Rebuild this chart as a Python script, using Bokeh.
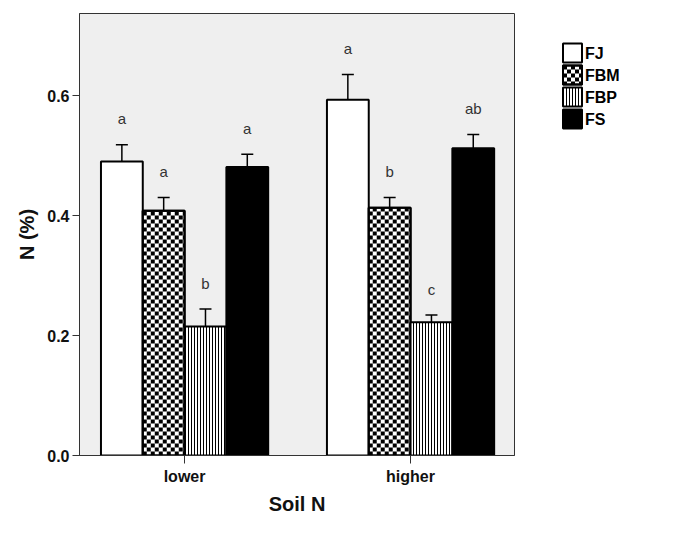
from bokeh.plotting import figure
from bokeh.layouts import row
from bokeh.models import ColumnDataSource, Range1d, FixedTicker, Whisker, TeeHead
from bokeh.core.properties import value
from bokeh.embed import file_html
from bokeh.resources import INLINE

soil_levels = ["lower", "higher"]
species = ["FJ", "FBM", "FBP", "FS"]
means = {
    "FJ":  [0.490, 0.593],
    "FBM": [0.408, 0.413],
    "FBP": [0.215, 0.222],
    "FS":  [0.481, 0.512],
}
errors = {
    "FJ":  [0.028, 0.042],
    "FBM": [0.022, 0.017],
    "FBP": [0.029, 0.012],
    "FS":  [0.021, 0.023],
}
letters = {
    "FJ":  ["a", "a"],
    "FBM": ["a", "b"],
    "FBP": ["b", "c"],
    "FS":  ["a", "ab"],
}
y_ticks = [0.0, 0.2, 0.4, 0.6]

FONT = "Liberation Sans"

# style per series
styles = {
    "FJ":  dict(fill_color="white"),
    "FBM": dict(fill_color="white", checker=True),
    "FBP": dict(fill_color="white", hatch_pattern="vertical_line", hatch_color="black",
                hatch_scale=3, hatch_weight=1),
    "FS":  dict(fill_color="black"),
}


def checker_cells(x0, x1, y0, y1, cw, ch):
    """black cells of a checkerboard covering [x0,x1]x[y0,y1]"""
    L, R, B, T = [], [], [], []
    j = 0
    y = y0
    while y < y1 - 1e-12:
        i = 0
        x = x0
        while x < x1 - 1e-12:
            if (i + j) % 2 == 0:
                L.append(x); R.append(min(x + cw, x1))
                B.append(y); T.append(min(y + ch, y1))
            x += cw
            i += 1
        y += ch
        j += 1
    return L, R, B, T


FW, FH = 435, 442
TOP, BOTTOM = 13, 80
XR = (-0.465, 1.46)
YR = (0, 0.7367)
p = figure(frame_width=FW, frame_height=FH, output_backend="svg", toolbar_location=None,
           x_range=Range1d(*XR), y_range=Range1d(*YR),
           min_border_left=79, min_border_top=TOP, min_border_right=2, min_border_bottom=BOTTOM)
p.background_fill_color = "#efefef"
p.border_fill_color = "white"
p.outline_line_color = "#333333"
p.outline_line_width = 1
p.xgrid.visible = False
p.ygrid.visible = False

cell_px = 4
cw = cell_px * (XR[1] - XR[0]) / FW
ch = cell_px * (YR[1] - YR[0]) / FH

bar_w = 0.185
offsets = [-0.2775, -0.0925, 0.0925, 0.2775]
for i, sp in enumerate(species):
    xs = [k + offsets[i] for k in range(len(soil_levels))]
    tops = means[sp]
    ups = [m + e for m, e in zip(tops, errors[sp])]
    los = [m - e for m, e in zip(tops, errors[sp])]
    src = ColumnDataSource(dict(x=xs, top=tops, upper=ups, lower=los,
                                ly=[u + 0.043 for u in ups], lab=letters[sp]))
    st = dict(styles[sp])
    chk = st.pop("checker", False)
    p.vbar(x="x", top="top", width=bar_w, source=src, line_color="black",
           line_width=2, **st)
    if chk:
        L, R, B, T = [], [], [], []
        for xc, t in zip(xs, tops):
            l, r, b, tt = checker_cells(xc - bar_w / 2, xc + bar_w / 2, 0, t, cw, ch)
            L += l; R += r; B += b; T += tt
        p.quad(left=L, right=R, bottom=B, top=T, fill_color="black", line_color=None)
        p.vbar(x="x", top="top", width=bar_w, source=src, line_color="black",
               line_width=2, fill_alpha=0)
    w = Whisker(base="x", upper="upper", lower="lower", source=src,
                line_color="black", line_width=1.5,
                upper_head=TeeHead(size=12, line_color="black", line_width=1.5),
                lower_head=TeeHead(size=12, line_color="black", line_width=1.5))
    p.add_layout(w)
    p.text(x="x", y="ly", text="lab", source=src, text_align="center",
           text_baseline="middle", text_font=value(FONT), text_font_size="15px",
           text_color="#333333")

# axes
p.xaxis.ticker = FixedTicker(ticks=list(range(len(soil_levels))))
p.xaxis.major_label_overrides = {i: s for i, s in enumerate(soil_levels)}
p.xaxis.axis_label = "Soil N"
p.yaxis.ticker = FixedTicker(ticks=y_ticks)
p.yaxis.formatter.use_scientific = False
p.yaxis.major_label_overrides = {t: f"{t:.1f}" for t in y_ticks}
p.yaxis.axis_label = "N (%)"

for ax in (p.xaxis[0], p.yaxis[0]):
    ax.axis_line_color = "#333333"
    ax.major_tick_line_color = "#333333"
    ax.minor_tick_line_color = None
    ax.major_tick_in = 0
    ax.major_tick_out = 7
    ax.major_label_text_font = FONT
    ax.major_label_text_font_style = "bold"
    ax.major_label_text_font_size = "16px"
    ax.major_label_text_color = "#111111"
    ax.axis_label_text_font = FONT
    ax.axis_label_text_font_style = "bold"
    ax.axis_label_text_font_size = "20px"
    ax.axis_label_text_color = "#111111"

p.xaxis.major_tick_out = 8
p.xaxis.major_label_standoff = 4
p.xaxis.axis_label_standoff = 5
p.yaxis.major_label_standoff = 3
p.yaxis.axis_label_standoff = 6

# ---- legend panel (separate figure; y in page pixels, x in panel pixels) ----
LW = 169
lf = figure(frame_width=LW, frame_height=FH,
            x_range=Range1d(0, LW), y_range=Range1d(TOP + FH, TOP),
            output_backend="svg", toolbar_location=None,
            min_border_left=0, min_border_right=0,
            min_border_top=TOP, min_border_bottom=BOTTOM,
            x_axis_type=None, y_axis_type=None)
lf.outline_line_color = None
lf.background_fill_color = "white"
lf.border_fill_color = "white"
lf.xgrid.visible = False
lf.ygrid.visible = False

box_x0, box_size, pitch, first_top = 46.5, 19, 22, 43
for i, sp in enumerate(species):
    t = first_top + i * pitch
    b = t + box_size
    st = dict(styles[sp])
    chk = st.pop("checker", False)
    lf.quad(left=[box_x0], right=[box_x0 + box_size], top=[t], bottom=[b],
            line_color="black", line_width=2, **st)
    if chk:
        L, R, B, T = checker_cells(box_x0, box_x0 + box_size, t, b, 4, 4)
        lf.quad(left=L, right=R, bottom=B, top=T, fill_color="black", line_color=None)
        lf.quad(left=[box_x0], right=[box_x0 + box_size], top=[t], bottom=[b],
                line_color="black", line_width=2, fill_alpha=0)

lf.text(x=[box_x0 + box_size + 3] * len(species),
        y=[first_top + i * pitch + box_size / 2 for i in range(len(species))],
        text=species, text_align="left", text_baseline="middle",
        text_font=value(FONT), text_font_style="bold", text_font_size="16px",
        text_color="black")

layout = row(p, lf, spacing=0)
open("out.html", "w").write(file_html(layout, INLINE))
